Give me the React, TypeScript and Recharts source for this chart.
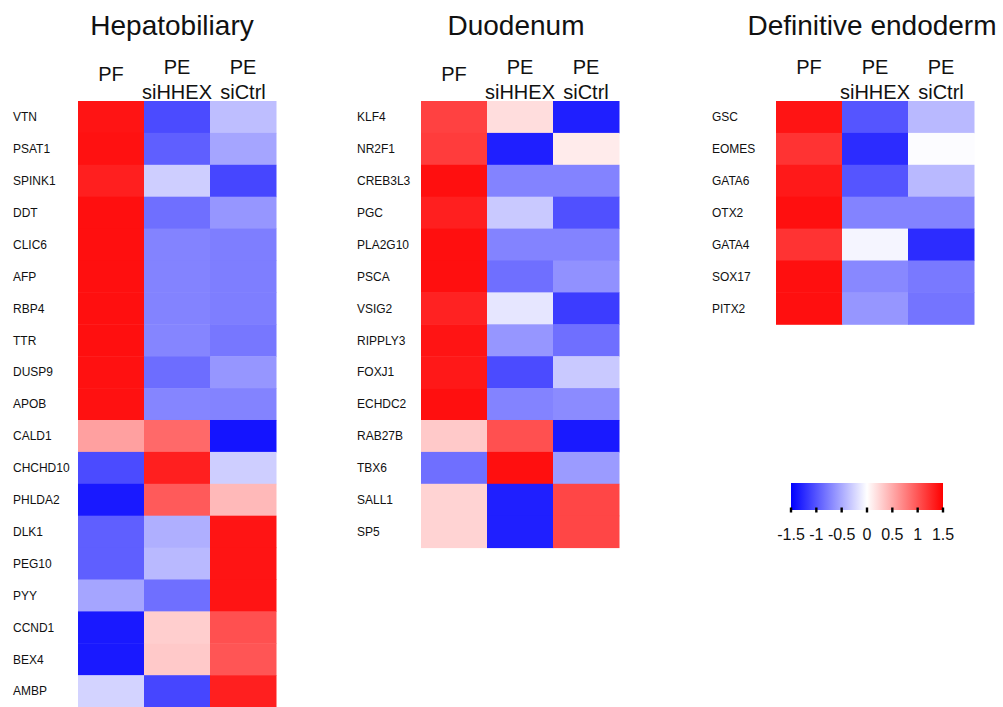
import React from "react";
import {
  ScatterChart,
  Scatter,
  XAxis,
  YAxis,
  ReferenceArea,
} from "recharts";

// expression z-scores, one array per condition
const conditions = ["PF", "PE\nsiHHEX", "PE\nsiCtrl"];

const hepatoGenes = [
  "VTN", "PSAT1", "SPINK1", "DDT", "CLIC6", "AFP", "RBP4", "TTR", "DUSP9", "APOB",
  "CALD1", "CHCHD10", "PHLDA2", "DLK1", "PEG10", "PYY", "CCND1", "BEX4", "AMBP",
];
const hepatoPF = [
  1.38, 1.4, 1.32, 1.41, 1.41, 1.41, 1.41, 1.41, 1.4, 1.4,
  0.56, -1.06, -1.35, -0.94, -0.94, -0.53, -1.35, -1.35, -0.26,
];
const hepatoSiHHEX = [
  -1.06, -0.94, -0.29, -0.85, -0.73, -0.73, -0.73, -0.72, -0.86, -0.72,
  0.88, 1.32, 0.97, -0.47, -0.41, -0.85, 0.29, 0.32, -1.09,
];
const hepatoSiCtrl = [
  -0.38, -0.53, -1.09, -0.62, -0.76, -0.76, -0.76, -0.8, -0.62, -0.73,
  -1.38, -0.29, 0.41, 1.38, 1.38, 1.38, 1.03, 1.0, 1.32,
];

const duodenumGenes = [
  "KLF4", "NR2F1", "CREB3L3", "PGC", "PLA2G10", "PSCA", "VSIG2",
  "RIPPLY3", "FOXJ1", "ECHDC2", "RAB27B", "TBX6", "SALL1", "SP5",
];
const duodenumPF = [
  1.12, 1.15, 1.41, 1.32, 1.41, 1.41, 1.3, 1.38, 1.36, 1.41, 0.32, -0.85, 0.26, 0.26,
];
const duodenumSiHHEX = [
  0.2, -1.32, -0.73, -0.32, -0.73, -0.85, -0.15, -0.62, -1.06, -0.73, 1.03, 1.41, -1.32, -1.32,
];
const duodenumSiCtrl = [
  -1.32, 0.12, -0.73, -1.03, -0.73, -0.65, -1.15, -0.85, -0.32, -0.68, -1.35, -0.59, 1.09, 1.09,
];

const endodermGenes = ["GSC", "EOMES", "GATA6", "OTX2", "GATA4", "SOX17", "PITX2"];
const endodermPF = [1.38, 1.2, 1.35, 1.41, 1.2, 1.41, 1.41];
const endodermSiHHEX = [-1.0, -1.24, -1.0, -0.73, -0.06, -0.7, -0.62];
const endodermSiCtrl = [-0.41, -0.02, -0.41, -0.73, -1.24, -0.79, -0.82];

const scaleTicks = [-1.5, -1, -0.5, 0, 0.5, 1, 1.5];

const FONT = '"Liberation Sans", Arial, Helvetica, sans-serif';
const ROW_H = 31.9;
const COL_W = 66;

// blue - white - red, clipped at +-1.5
const heatColor = (v: number) => {
  const t = Math.max(-1, Math.min(1, v / 1.5));
  const k = Math.round(255 * (1 - Math.abs(t)));
  return t >= 0 ? `rgb(255,${k},${k})` : `rgb(${k},${k},255)`;
};

const buildCells = (cols: number[][]) => {
  const cells: { x: number; y: number; v: number }[] = [];
  cols.forEach((vals, c) =>
    vals.forEach((v, r) => cells.push({ x: c + 0.5, y: r + 0.5, v }))
  );
  return cells;
};

const RowTick = (props: any) => {
  const { y, payload, genes, labelX } = props;
  const name = genes[Math.floor(payload.value)];
  return (
    <text x={labelX} y={y + 4.3} fontSize={12} fontFamily={FONT} fill="#111" textAnchor="start">
      {name}
    </text>
  );
};

const ColTick = (props: any) => {
  const { x, y, payload, singleBaseline } = props;
  const lines = conditions[Math.floor(payload.value)].split("\n");
  if (lines.length === 1) {
    return (
      <text x={x} y={y - singleBaseline} fontSize={20} fontFamily={FONT} fill="#111" textAnchor="middle">
        {lines[0]}
      </text>
    );
  }
  return (
    <text fontSize={20} fontFamily={FONT} fill="#111" textAnchor="middle">
      <tspan x={x} y={y - 27}>{lines[0]}</tspan>
      <tspan x={x} y={y - 2}>{lines[1]}</tspan>
    </text>
  );
};

interface HeatmapProps {
  genes: string[];
  cols: number[][];
  left: number;
  axisWidth: number;
  labelX: number;
  singleBaseline: number;
}

const HEAD_H = 45;

const Heatmap: React.FC<HeatmapProps> = ({ genes, cols, left, axisWidth, labelX, singleBaseline }) => {
  const top = 101;
  const plotW = COL_W * 3;
  const plotH = ROW_H * genes.length;
  const width = axisWidth + plotW + 4;
  const height = top + plotH + 1;
  const cellW = plotW / 3;
  const cellH = plotH / genes.length;
  const cells = buildCells(cols);

  return (
    <div style={{ position: "absolute", left, top: 0 }}>
      <ScatterChart width={width} height={height} margin={{ top: top - HEAD_H, right: 4, bottom: 1, left: 0 }}>
        <XAxis
          type="number"
          dataKey="x"
          orientation="top"
          domain={[0, 3]}
          ticks={[0.5, 1.5, 2.5]}
          interval={0}
          height={HEAD_H}
          axisLine={false}
          tickLine={false}
          tickSize={0}
          tickMargin={0}
          tick={<ColTick singleBaseline={singleBaseline} />}
        />
        <YAxis
          type="number"
          dataKey="y"
          reversed
          domain={[0, genes.length]}
          ticks={genes.map((_, i) => i + 0.5)}
          interval={0}
          width={axisWidth}
          axisLine={false}
          tickLine={false}
          tickSize={0}
          tickMargin={0}
          tick={<RowTick genes={genes} labelX={labelX} />}
        />
        <Scatter
          data={cells}
          isAnimationActive={false}
          shape={(p: any) => (
            <rect
              x={p.cx - cellW / 2}
              y={p.cy - cellH / 2}
              width={cellW + 0.5}
              height={cellH + 0.5}
              fill={heatColor(p.payload.v)}
            />
          )}
        />
      </ScatterChart>
    </div>
  );
};

const ScaleTick = (props: any) => {
  const { x, y, payload } = props;
  return (
    <text x={x} y={y + 30} fontSize={16} fontFamily={FONT} fill="#111" textAnchor="middle">
      {payload.value}
    </text>
  );
};

const ColorScale = () => (
  <div style={{ position: "absolute", left: 760, top: 460 }}>
    <ScatterChart width={220} height={90} margin={{ top: 23, right: 37, bottom: 2, left: 31 }}>
      <defs>
        <linearGradient id="scaleGrad" x1="0" y1="0" x2="1" y2="0">
          <stop offset="0%" stopColor="#0000ff" />
          <stop offset="50%" stopColor="#ffffff" />
          <stop offset="100%" stopColor="#ff0000" />
        </linearGradient>
      </defs>
      <XAxis
        type="number"
        dataKey="x"
        domain={[-1.5, 1.5]}
        ticks={scaleTicks}
        interval={0}
        height={38}
        axisLine={false}
        tickLine={false}
        tickSize={0}
        tickMargin={0}
        tick={<ScaleTick />}
      />
      <YAxis type="number" dataKey="y" domain={[0, 1]} hide />
      <ReferenceArea x1={-1.5} x2={1.5} y1={0} y2={1} fill="url(#scaleGrad)" fillOpacity={1} stroke="none" />
      <Scatter
        data={scaleTicks.map((x) => ({ x, y: 0 }))}
        isAnimationActive={false}
        shape={(p: any) => <rect x={p.cx - 1.2} y={p.cy - 2.5} width={2.4} height={5} fill="#000" />}
      />
    </ScatterChart>
  </div>
);

export default function App() {
  return (
    <div style={{ position: "absolute", left: 0, top: 0, width: 1003, height: 707, background: "#fff", overflow: "hidden" }}>
      <svg width={1003} height={60} style={{ position: "absolute", left: 0, top: 0 }}>
        <g fontFamily={FONT} fontSize={28} fill="#111" textAnchor="middle">
          <text x={172} y={35}>Hepatobiliary</text>
          <text x={516} y={35}>Duodenum</text>
          <text x={872} y={35}>Definitive endoderm</text>
        </g>
      </svg>
      <Heatmap
        genes={hepatoGenes}
        cols={[hepatoPF, hepatoSiHHEX, hepatoSiCtrl]}
        left={0}
        axisWidth={78}
        labelX={13}
        singleBaseline={20}
      />
      <Heatmap
        genes={duodenumGenes}
        cols={[duodenumPF, duodenumSiHHEX, duodenumSiCtrl]}
        left={340}
        axisWidth={81}
        labelX={17}
        singleBaseline={20}
      />
      <Heatmap
        genes={endodermGenes}
        cols={[endodermPF, endodermSiHHEX, endodermSiCtrl]}
        left={700}
        axisWidth={76}
        labelX={12}
        singleBaseline={27}
      />
      <ColorScale />
    </div>
  );
}
